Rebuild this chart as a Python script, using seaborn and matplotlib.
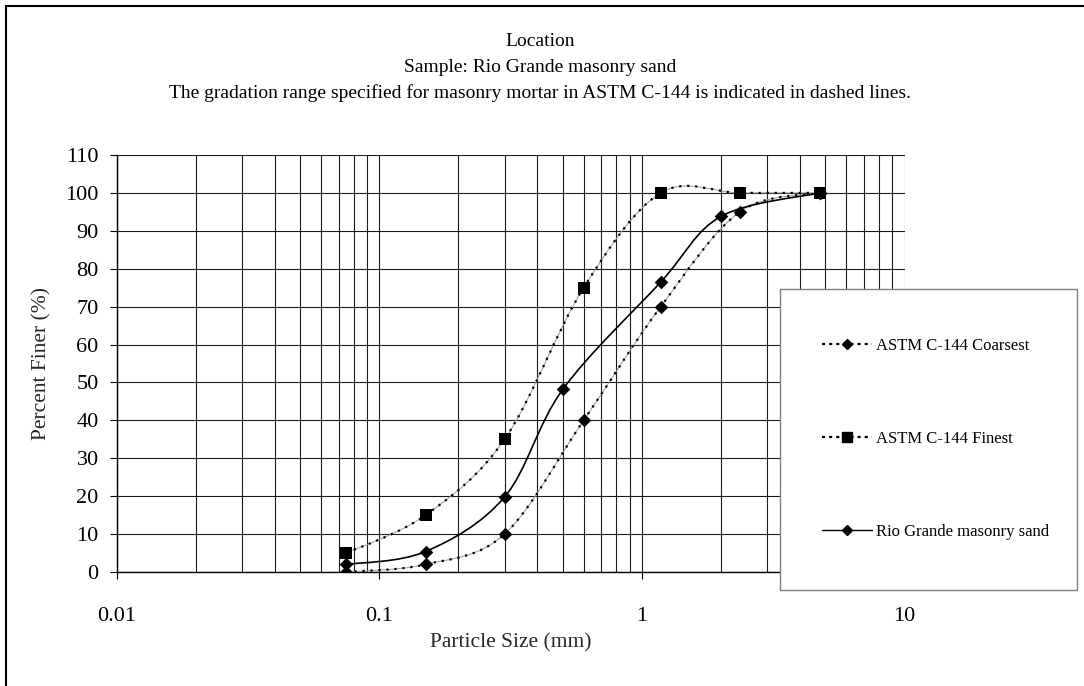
import numpy as np
import pandas as pd
import matplotlib
matplotlib.use("Agg")
import matplotlib.pyplot as plt
import seaborn as sns
from matplotlib.path import Path
from matplotlib.patches import PathPatch, Rectangle
from matplotlib.lines import Line2D
from matplotlib.ticker import FixedLocator, FixedFormatter, LogLocator, NullFormatter

# Sieve gradation data
sieve_mm = [0.075, 0.15, 0.3, 0.6, 1.18, 2.36, 4.75]
astm_coarsest = [0, 2, 10, 40, 70, 95, 100]
astm_finest = [5, 15, 35, 75, 100, 100, 100]
sand_size_mm = [0.075, 0.15, 0.3, 0.5, 1.18, 2.0, 4.75]
sand_finer = [2.0, 5.4, 19.8, 48.2, 76.5, 93.8, 100]

series_names = ["ASTM C-144 Coarsest", "ASTM C-144 Finest", "Rio Grande masonry sand"]
title_lines = ["Location",
               "Sample: Rio Grande masonry sand",
               "The gradation range specified for masonry mortar in ASTM C-144 is indicated in dashed lines."]
x_ticks = [0.01, 0.1, 1, 10]
x_tick_labels = ["0.01", "0.1", "1", "10"]
y_ticks = list(range(0, 111, 10))

sns.set_theme(style="white")
plt.rcParams["font.family"] = ["Liberation Serif", "DejaVu Serif"]
plt.rcParams["text.color"] = "black"

W, H = 1084, 686
fig = plt.figure(figsize=(W / 100, H / 100), dpi=100)
fig.patch.set_facecolor("white")
ax = fig.add_axes([116.7 / W, 1 - 572 / H, (904.5 - 116.7) / W, (572 - 155) / H])


def smooth_path(x, y):
    """Smoothed (Catmull-Rom style) Bezier path through the points, in log-x space."""
    pts = np.column_stack([np.log10(np.asarray(x, float)), np.asarray(y, float)])
    n = len(pts)
    verts = [pts[0]]
    codes = [Path.MOVETO]
    for i in range(n - 1):
        p0 = pts[max(i - 1, 0)]
        p1 = pts[i]
        p2 = pts[i + 1]
        p3 = pts[min(i + 2, n - 1)]
        c1 = p1 + (p2 - p0) / 6.0
        c2 = p2 - (p3 - p1) / 6.0
        verts += [c1, c2, p2]
        codes += [Path.CURVE4] * 3
    verts = np.array(verts)
    verts[:, 0] = 10 ** verts[:, 0]
    return Path(verts, codes)


ax.set_xscale("log")
ax.set_xlim(0.01, 10)
ax.set_ylim(0, 110)

# ASTM limits: thin grey smoothed curve with a black dotted overlay
for xs, ys in [(sieve_mm, astm_coarsest), (sieve_mm, astm_finest)]:
    p = smooth_path(xs, ys)
    ax.add_patch(PathPatch(p, facecolor="none", edgecolor="#9a9a9a", lw=0.7, zorder=3))
    ax.add_patch(PathPatch(p, facecolor="none", edgecolor="black", lw=1.6,
                           linestyle=(0, (1.0, 2.6)), zorder=3))

# Sample curve: solid smoothed line
ax.add_patch(PathPatch(smooth_path(sand_size_mm, sand_finer), facecolor="none",
                       edgecolor="black", lw=1.2, zorder=3))

# Markers
df = pd.concat([
    pd.DataFrame({"size": sieve_mm, "finer": astm_coarsest, "series": series_names[0]}),
    pd.DataFrame({"size": sieve_mm, "finer": astm_finest, "series": series_names[1]}),
    pd.DataFrame({"size": sand_size_mm, "finer": sand_finer, "series": series_names[2]}),
])
marker_map = {series_names[0]: "D", series_names[1]: "s", series_names[2]: "D"}
size_map = {series_names[0]: 48, series_names[1]: 72, series_names[2]: 48}
for name in series_names:
    sub = df[df["series"] == name]
    sns.scatterplot(data=sub, x="size", y="finer", marker=marker_map[name],
                    s=size_map[name], color="black", edgecolor="black", linewidth=0,
                    ax=ax, zorder=4, legend=False)

# Axes styling
ax.xaxis.set_major_locator(FixedLocator(x_ticks))
ax.xaxis.set_major_formatter(FixedFormatter(x_tick_labels))
ax.xaxis.set_minor_locator(LogLocator(base=10, subs=np.arange(2, 10)))
ax.xaxis.set_minor_formatter(NullFormatter())
ax.set_yticks(y_ticks)
ax.grid(True, which="both", axis="x", color="#1a1a1a", lw=0.8)
ax.grid(True, which="major", axis="y", color="#1a1a1a", lw=0.8)
ax.set_axisbelow(True)
for side in ["top", "right"]:
    ax.spines[side].set_visible(False)
for side in ["left", "bottom"]:
    ax.spines[side].set_color("black")
    ax.spines[side].set_linewidth(1.0)
ax.tick_params(axis="both", which="major", direction="out", length=5, width=0.8,
               color="black", labelsize=16, labelcolor="black", bottom=True, left=True)
ax.tick_params(axis="y", which="major", pad=8)
ax.tick_params(axis="x", which="major", pad=20)
ax.tick_params(axis="x", which="minor", length=0)
ax.set_xlabel("Particle Size (mm)", fontsize=15.5)
ax.set_ylabel("Percent Finer (%)", fontsize=15.5)
ax.xaxis.set_label_coords(0.5, -0.148)
ax.yaxis.set_label_coords(-0.083, 0.5)
ax.set_facecolor("white")

# Title block
for i, line in enumerate(title_lines):
    fig.text(540 / W, 1 - (41 + 26 * i) / H, line, ha="center", va="center", fontsize=14)

# Chart border
fig.add_artist(Rectangle((5.5 / W, -0.1), 1.2, 1 - 6 / H + 0.1, transform=fig.transFigure,
                         facecolor="none", edgecolor="black", lw=1.5, zorder=2))

# Legend box over the plot area
fig.add_artist(Rectangle((780 / W, 1 - 590 / H), 297 / W, 301 / H, transform=fig.transFigure,
                         facecolor="white", edgecolor="#808080", lw=1.0, zorder=3))
handles = [
    Line2D([], [], color="black", lw=1.6, linestyle=(0, (1.4, 1.8)), marker="D", markersize=5),
    Line2D([], [], color="black", lw=1.6, linestyle=(0, (1.4, 1.8)), marker="s", markersize=7),
    Line2D([], [], color="black", lw=1.0, linestyle="-", marker="D", markersize=5),
]
fig.legend(handles, series_names, loc="center left", bbox_to_anchor=(814 / W, 1 - 439 / H),
           frameon=False, fontsize=12, handlelength=3.0, handletextpad=0.25,
           labelspacing=4.6, borderpad=0)

fig.savefig("out.png", dpi=100, facecolor="white")
